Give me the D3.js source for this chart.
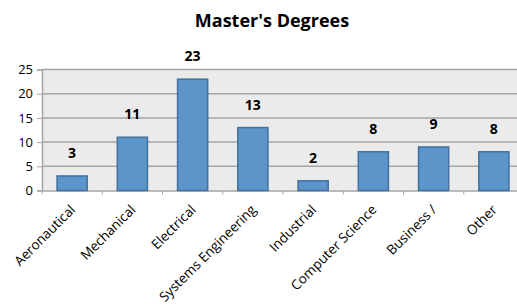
<!DOCTYPE html>
<html lang="en">
<head>
    <meta charset="UTF-8">
    <title>Master's Degrees</title>
    <style>
        html, body {
            margin: 0;
            padding: 0;
            background-color: #ffffff;
            font-family: 'Open Sans', sans-serif;
            color: #000;
        }
        svg { display: block; }
    </style>
</head>
<body>
    <div id="chart"></div>
    <script src="https://d3js.org/d3.v7.min.js"></script>
    <script>
        // DATA
        const categories = ["Aeronautical", "Mechanical", "Electrical", "Systems Engineering",
            "Industrial", "Computer Science", "Business /", "Other"];
        const degrees = [3, 11, 23, 13, 2, 8, 9, 8];
        const yTicks = [0, 5, 10, 15, 20, 25];

        const W = 517, H = 305;
        const plot = {left: 42, right: 524, top: 69.5, bottom: 190.5};

        const svg = d3.select("#chart")
            .append("svg")
            .attr("width", W)
            .attr("height", H);

        // SCALES
        const x = d3.scaleBand()
            .domain(categories)
            .range([plot.left, plot.right])
            .paddingInner(0.5)
            .paddingOuter(0.25);
        const xTick = d3.scaleBand()
            .domain(categories)
            .range([plot.left, plot.right]);
        const y = d3.scaleLinear()
            .domain([0, 25])
            .range([plot.bottom, plot.top]);

        // PLOT BACKGROUND
        svg.append("rect")
            .attr("x", plot.left)
            .attr("y", plot.top)
            .attr("width", plot.right - plot.left)
            .attr("height", plot.bottom - plot.top)
            .style("fill", "#ebebeb");

        // GRIDLINES
        svg.append("g")
            .selectAll("line")
            .data(yTicks.filter(d => d > 0))
            .enter()
            .append("line")
            .attr("x1", plot.left)
            .attr("x2", plot.right)
            .attr("y1", d => y(d))
            .attr("y2", d => y(d))
            .style("stroke", "#a5a5a5")
            .style("stroke-width", 1.5);

        // Y AXIS
        const yAxis = d3.axisLeft(y)
            .tickValues(yTicks)
            .tickSize(5)
            .tickPadding(4);
        const gy = svg.append("g")
            .attr("transform", `translate(${plot.left}, 0)`)
            .call(yAxis);
        gy.select(".domain").style("stroke", "#a5a5a5").style("stroke-width", 1.5);
        gy.selectAll(".tick line").style("stroke", "#a5a5a5");
        gy.selectAll("text")
            .style("font-family", "'Open Sans', sans-serif")
            .style("font-size", "13px")
            .style("fill", "#000");

        // X AXIS
        const xAxis = d3.axisBottom(xTick)
            .tickSize(0)
            .tickFormat(d => d);
        const gx = svg.append("g")
            .attr("transform", `translate(0, ${plot.bottom})`)
            .call(xAxis);
        gx.select(".domain").style("stroke", "#a5a5a5").style("stroke-width", 1.5);
        gx.selectAll("text")
            .style("font-family", "'Open Sans', sans-serif")
            .style("font-size", "13.5px")
            .style("fill", "#000")
            .attr("text-anchor", "end")
            .attr("dy", null)
            .attr("y", 0)
            .attr("transform", "translate(4, 20) rotate(-45)");

        // tick marks at band edges
        svg.append("g")
            .selectAll("line")
            .data(categories.concat(["__end"]))
            .enter()
            .append("line")
            .attr("x1", (d, i) => plot.left + i * xTick.bandwidth())
            .attr("x2", (d, i) => plot.left + i * xTick.bandwidth())
            .attr("y1", plot.bottom)
            .attr("y2", plot.bottom + 4)
            .style("stroke", "#a5a5a5")
            .style("stroke-width", 1);

        // BARS
        svg.append("g")
            .selectAll("rect")
            .data(degrees)
            .enter()
            .append("rect")
            .attr("x", (d, i) => x(categories[i]))
            .attr("y", d => y(d))
            .attr("width", x.bandwidth())
            .attr("height", d => plot.bottom - y(d))
            .style("fill", "#5b95ca")
            .style("stroke", "#41719c")
            .style("stroke-width", 1.5);

        // DATA LABELS
        svg.append("g")
            .selectAll("text")
            .data(degrees)
            .enter()
            .append("text")
            .attr("x", (d, i) => x(categories[i]) + x.bandwidth() / 2)
            .attr("y", d => y(d) - 18)
            .attr("text-anchor", "middle")
            .style("font-family", "'Open Sans', sans-serif")
            .style("font-weight", "bold")
            .style("font-size", "14px")
            .text(d => d);

        // TITLE
        svg.append("text")
            .attr("x", 272)
            .attr("y", 27)
            .attr("text-anchor", "middle")
            .style("font-family", "'Open Sans', sans-serif")
            .style("font-weight", "bold")
            .style("font-size", "18px")
            .text("Master's Degrees");
    </script>
</body>
</html>
